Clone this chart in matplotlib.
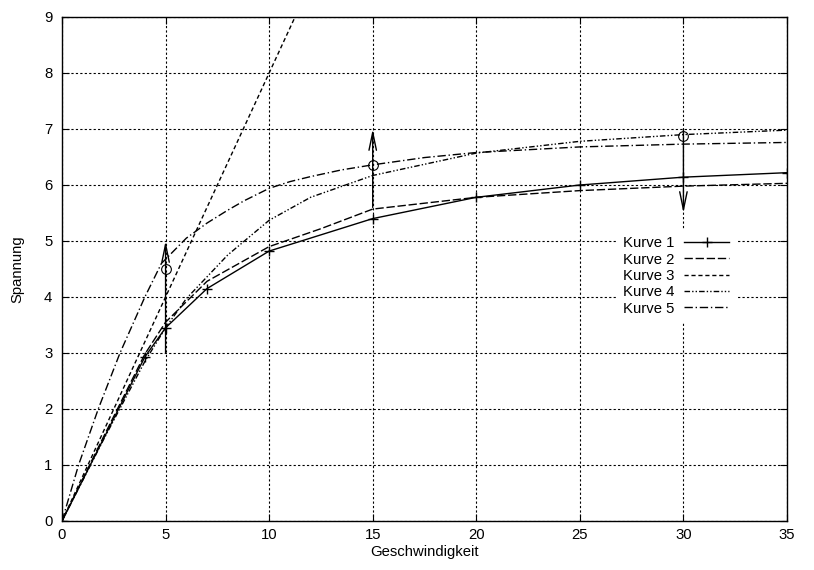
import matplotlib
matplotlib.use("Agg")
import matplotlib.pyplot as plt

plt.rcParams["font.family"] = ["Liberation Sans", "DejaVu Sans"]
plt.rcParams["font.size"] = 10.7

# values
x1 = [0, 4, 5, 7, 10, 15, 20, 25, 30, 35]
y1 = [0, 2.93, 3.45, 4.15, 4.82, 5.40, 5.78, 6.0, 6.14, 6.22]

x2 = [0, 2, 4, 5, 7, 10, 12.5, 15, 20, 25, 30, 35]
y2 = [0, 1.5, 2.98, 3.55, 4.28, 4.9, 5.22, 5.57, 5.78, 5.9, 5.98, 6.03]

x3 = [0, 12]
y3 = [0, 9.6]

x4 = [0, 2, 4, 5, 6, 8, 10, 12, 15, 20, 25, 30, 35]
y4 = [0, 1.45, 2.85, 3.45, 3.97, 4.75, 5.37, 5.78, 6.17, 6.57, 6.78, 6.9, 6.98]

x5 = [0, 0.8, 1.75, 2.8, 4, 4.8, 6, 7, 8, 8.8, 10, 11, 12, 13.5, 15, 17.5, 20, 25, 30, 35]
y5 = [0, 1, 2, 3, 4, 4.6, 5.05, 5.32, 5.55, 5.72, 5.94, 6.06, 6.15, 6.27, 6.36, 6.49, 6.58, 6.68, 6.73, 6.76]

arrow_x = [5, 15, 30]
arrow_from = [3.0, 5.6, 7.0]
arrow_to = [5.0, 7.0, 5.5]
circle_y = [4.5, 6.36, 6.87]

labels = ["Kurve 1", "Kurve 2", "Kurve 3", "Kurve 4", "Kurve 5"]

fig = plt.figure(figsize=(8.14, 5.70), dpi=100)
ax = fig.add_axes([62/814, 49/570, 725/814, 504/570])

ax.plot(x1, y1, color="black", lw=1, marker="+", ms=7, mew=1, label=labels[0])
ax.plot(x2, y2, color="black", lw=1, ls=(0, (6, 2)), label=labels[1])
ax.plot(x3, y3, color="black", lw=1, ls=(0, (3, 2)), label=labels[2])
ax.plot(x4, y4, color="black", lw=1, ls=(0, (4, 1.5, 1, 1.5, 1, 1.5)), label=labels[3])
ax.plot(x5, y5, color="black", lw=1, ls=(0, (6, 2, 1, 2)), label=labels[4])

for xa, ya, yb, yc in zip(arrow_x, arrow_from, arrow_to, circle_y):
    ax.annotate("", xy=(xa, yb), xytext=(xa, ya),
                arrowprops=dict(arrowstyle="->,head_length=1.2,head_width=0.25",
                                color="black", lw=1, shrinkA=0, shrinkB=0))
    ax.plot([xa], [yc], marker="o", ms=7, mfc="none", mec="black", mew=0.8)

ax.set_xlim(0, 35)
ax.set_ylim(0, 9)
ax.set_xticks(range(0, 36, 5))
ax.set_yticks(range(0, 10))
ax.grid(True, color="black", lw=0.8, ls=(0, (2, 2)))
ax.tick_params(direction="in", top=True, right=True, length=5, width=0.8)
ax.tick_params(axis="x", pad=5)
ax.tick_params(axis="y", pad=7)
for s in ax.spines.values():
    s.set_linewidth(1)
ax.set_xlabel("Geschwindigkeit", labelpad=2)
ax.set_ylabel("Spannung", labelpad=14)

leg = ax.legend(loc="upper right", bbox_to_anchor=(0.928, 0.577), markerfirst=False,
                handlelength=3.0, handletextpad=0.65, labelspacing=0.16,
                frameon=True, fancybox=False, framealpha=1, borderpad=0.4,
                borderaxespad=0)
leg.get_frame().set_edgecolor("white")
leg.get_frame().set_facecolor("white")
for t in leg.get_texts():
    t.set_ha("right")

fig.savefig("out.png", dpi=100)
